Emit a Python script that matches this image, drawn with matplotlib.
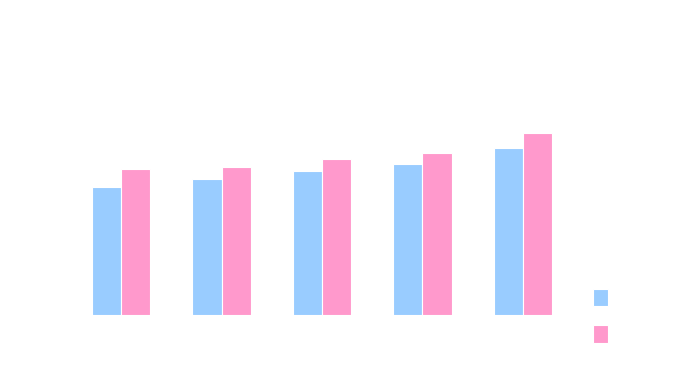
import matplotlib
matplotlib.use("Agg")
import matplotlib.pyplot as plt
import numpy as np

# values (no axis shown, so arbitrary units)
categories = ["A", "B", "C", "D", "E"]
series_1 = [128, 136, 144, 151, 167]
series_2 = [146, 148, 156, 162, 182]

blue = "#99CCFF"
pink = "#FF99CC"

W, H = 690, 380
fig = plt.figure(figsize=(W / 100, H / 100), dpi=100)
fig.patch.set_facecolor("white")

# plot area in pixels: x 71..573, baseline at y=315, top at y=15
ax = fig.add_axes([71 / W, (H - 315) / H, (573 - 71) / W, 300 / H])
x = np.arange(len(categories))
w = 0.29
b1 = ax.bar(x - w / 2, series_1, width=w, color=blue, edgecolor="white", linewidth=0.8)
b2 = ax.bar(x + w / 2, series_2, width=w, color=pink, edgecolor="white", linewidth=0.8)

ax.set_xlim(-0.5, len(categories) - 0.5)
ax.set_ylim(0, 300)
ax.axis("off")

fig.legend([b1, b2], ["", ""], loc="upper left",
           bbox_to_anchor=(593 / W, 1 - 289 / H), frameon=False,
           borderpad=0, borderaxespad=0, handlelength=1.1, handleheight=1.55,
           labelspacing=1.36, handletextpad=0.2, fontsize=10)

fig.savefig("out.png", dpi=100, facecolor="white")
